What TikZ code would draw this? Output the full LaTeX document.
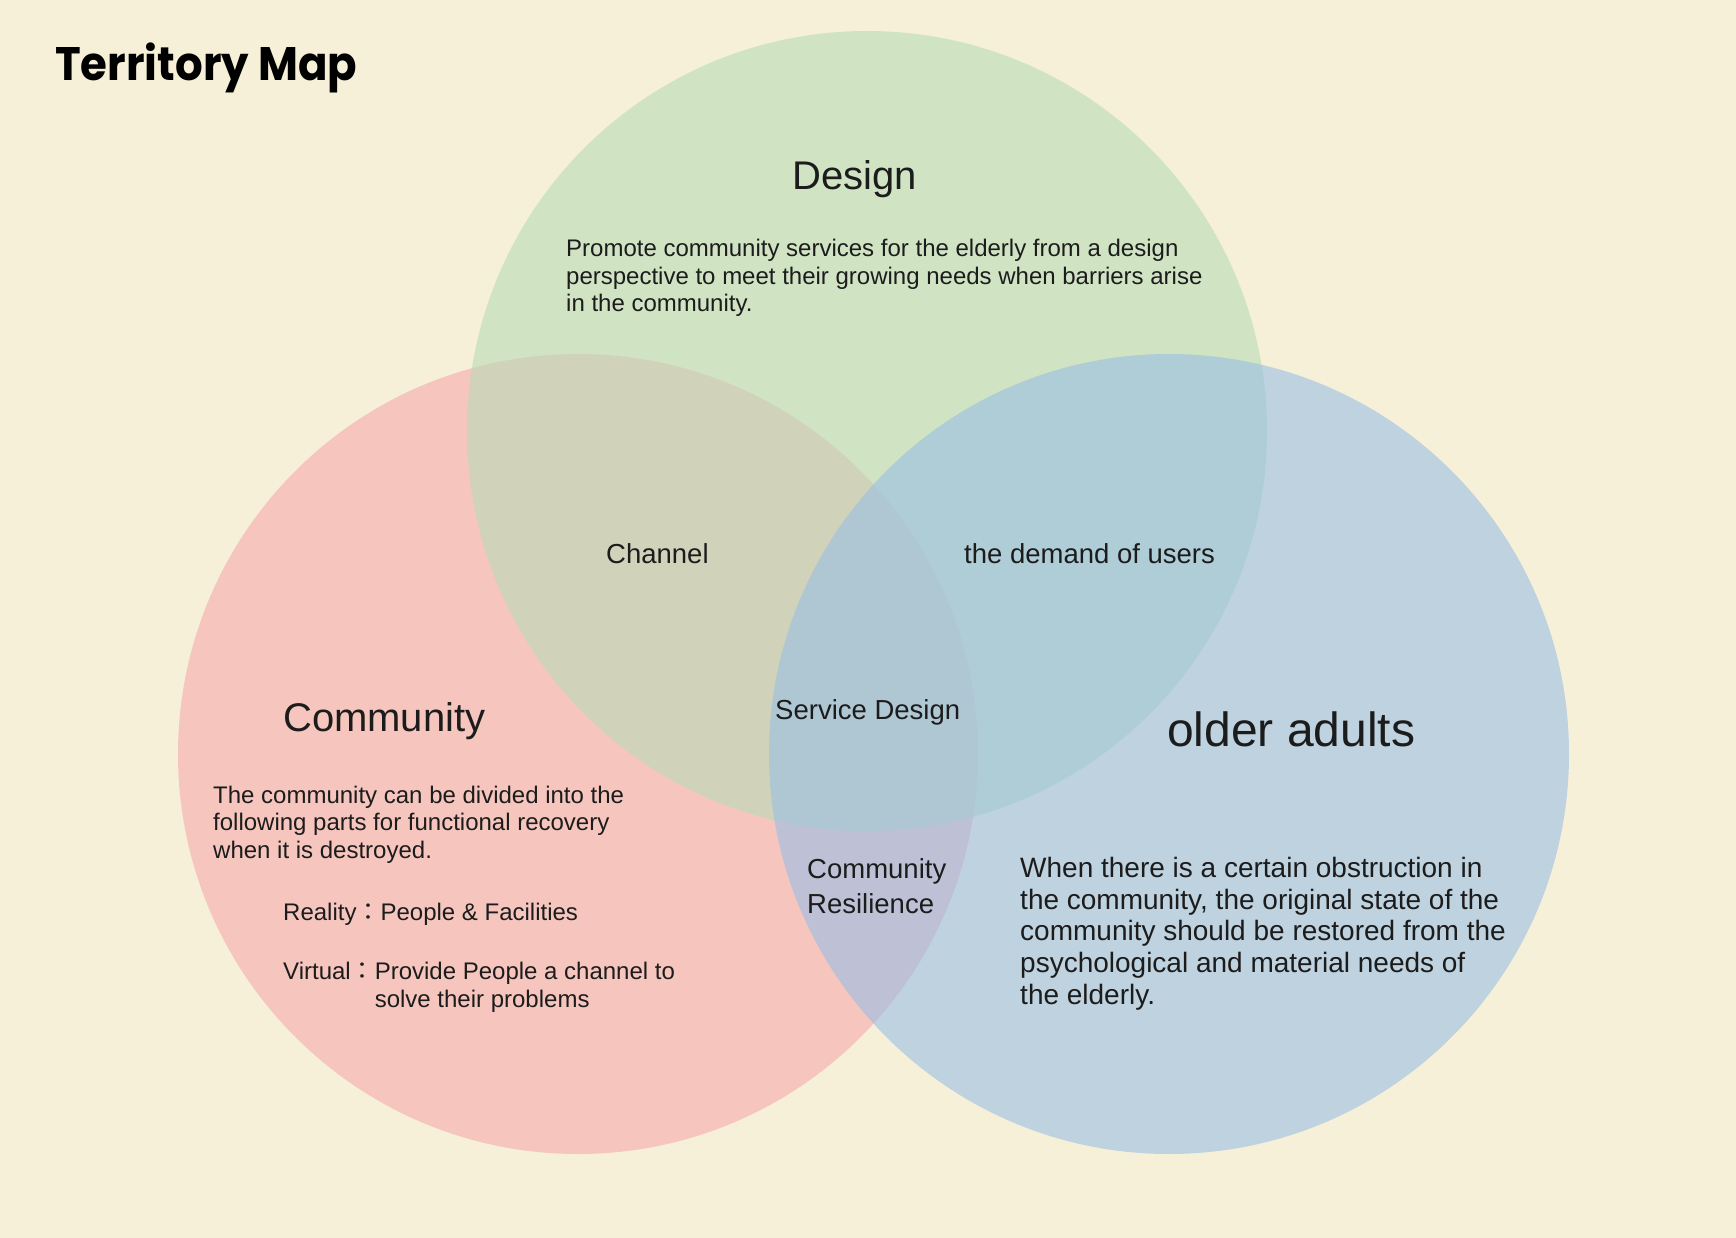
\documentclass[tikz,border=0pt]{standalone}
\usepackage{fontspec}
\setmainfont{Liberation Sans}
\newfontfamily\titlefont{Poppins}
\newfontfamily\cjk{Noto Sans CJK JP}
\definecolor{paper}{RGB}{246,240,216}
\definecolor{commred}{RGB}{246,170,173}
\definecolor{designgreen}{RGB}{184,220,184}
\definecolor{eldblue}{RGB}{153,190,229}
\definecolor{ink}{RGB}{28,28,28}
\tikzset{
    zone/.style={fill opacity=0.6}, % translucent circle
    heading/.style={anchor=base west, inner sep=0pt, text=ink, font=\fontsize{40}{46}\selectfont}, % circle titles
    overlap/.style={anchor=base west, inner sep=0pt, text=ink, align=left, font=\fontsize{27.5}{34.5}\selectfont}, % labels in the overlaps
    note/.style={anchor=base west, inner sep=0pt, text=ink, align=left, font=\fontsize{24}{27.5}\selectfont} % body text, anchored at its last line
}

\begin{document}
\begin{tikzpicture}[x=1pt, y=-1pt]
    \fill[paper] (0,0) rectangle (1736,1238);
    \useasboundingbox (0,0) rectangle (1736,1238);

    \foreach \cx / \cy / \col in {
        578/754/commred,
        867/431/designgreen,
        1169/754/eldblue%
    } {
        \fill[\col, zone] (\cx, \cy) circle[radius=400pt];
    }

    \node[anchor=base west, inner sep=0pt, xscale=0.925, transform shape, font=\titlefont\bfseries\fontsize{47}{52}\selectfont] (title) at (55, 81) {Territory Map};

    \node[heading] (design) at (792, 190) {Design};
    \node[note] (designnote) at (566, 312) {Promote community services for the elderly from a design\\perspective to meet their growing needs when barriers arise\\in the community.};

    \node[heading] (community) at (283, 731) {Community};
    \node[note] (communitynote) at (213, 858) {The community can be divided into the\\following parts for functional recovery\\when it is destroyed.};
    \node[note] (reality) at (283, 920) {Reality{\cjk ：}People \& Facilities};
    \node[note] (virtual) at (283, 1007) {Virtual{\cjk ：}Provide People a channel to\\\hphantom{Virtual{\cjk ：}}solve their problems};

    \node[overlap] (channel) at (606, 563) {Channel};
    \node[overlap] (demand) at (964, 563) {the demand of users};
    \node[overlap] (service) at (775, 719) {Service Design};
    \node[overlap] (resilience) at (807, 913) {Community\\Resilience};

    \node[heading, font=\fontsize{48}{54}\selectfont] (older) at (1167, 746) {older adults};
    \node[note, font=\fontsize{28}{31.6}\selectfont] (oldernote) at (1020, 1004) {When there is a certain obstruction in\\the community, the original state of the\\community should be restored from the\\psychological and material needs of\\the elderly.};
\end{tikzpicture}
\end{document}
